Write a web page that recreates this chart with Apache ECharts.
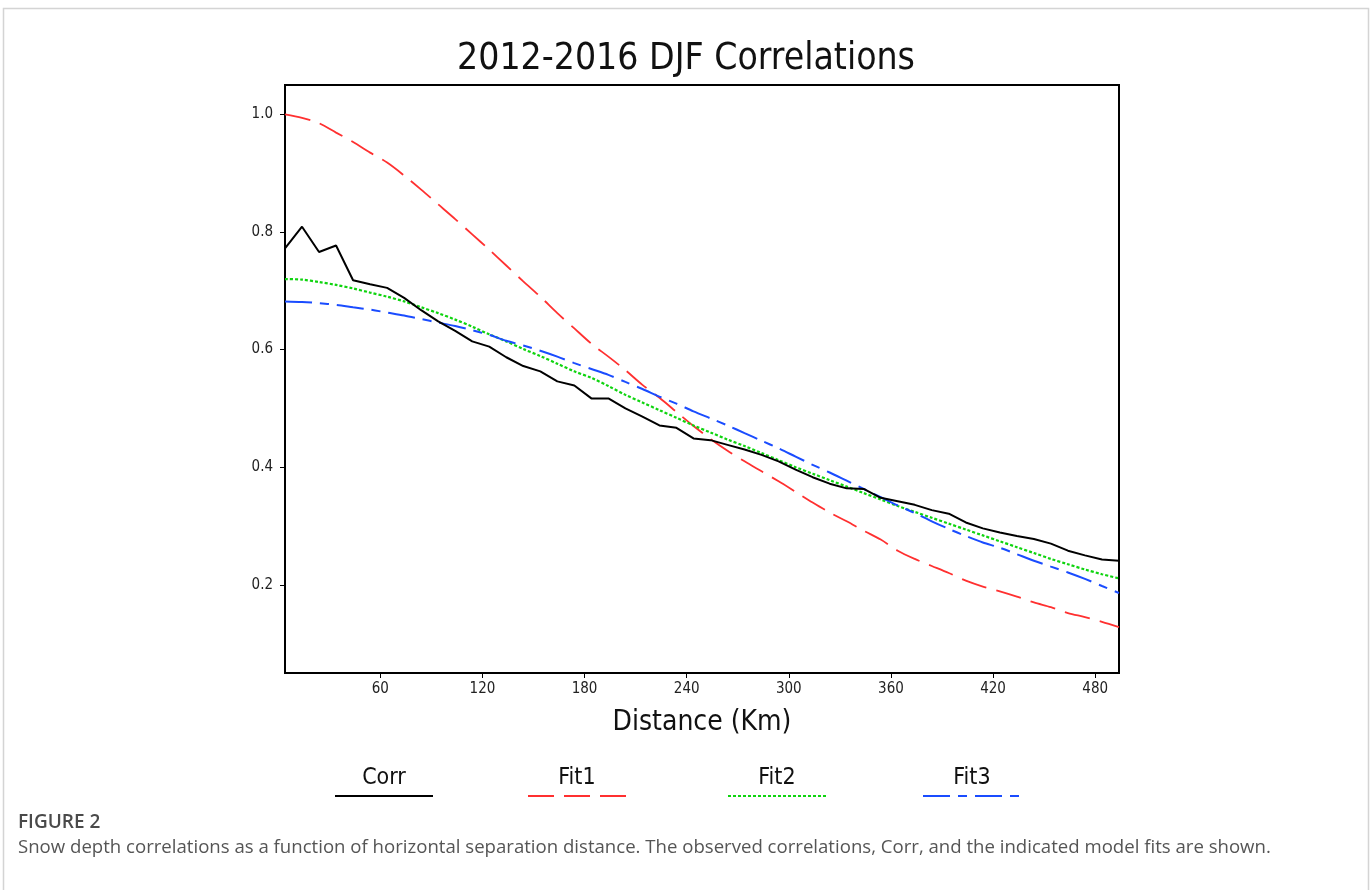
<!DOCTYPE html>
<html>
<head>
<meta charset="utf-8">
<script src="https://cdn.jsdelivr.net/npm/echarts@6/dist/echarts.min.js"></script>
<style>
  html, body { margin: 0; padding: 0; background: #fff; }
  #chart { width: 1372px; height: 890px; }
</style>
</head>
<body>
<div id="chart"></div>
<script>
// ---- data ----
const distances = [4, 14, 24, 34, 44, 54, 64, 74, 84, 94, 104, 114, 124, 134, 144, 154, 164, 174, 184, 194,
  204, 214, 224, 234, 244, 254, 264, 274, 284, 294, 304, 314, 324, 334, 344, 354, 364, 374, 384, 394,
  404, 414, 424, 434, 444, 454, 464, 474, 484, 494];

const corr = [0.772, 0.809, 0.766, 0.777, 0.718, 0.711, 0.705, 0.688, 0.667, 0.648,
  0.632, 0.614, 0.605, 0.587, 0.572, 0.563, 0.546, 0.539, 0.517, 0.517,
  0.500, 0.486, 0.471, 0.467, 0.449, 0.446, 0.438, 0.430, 0.421, 0.410,
  0.396, 0.383, 0.372, 0.364, 0.363, 0.348, 0.342, 0.336, 0.327, 0.321,
  0.306, 0.296, 0.289, 0.283, 0.278, 0.270, 0.258, 0.250, 0.243, 0.241];

const fit1 = [1.000, 0.994, 0.985, 0.969, 0.953, 0.935, 0.918, 0.896, 0.872, 0.847,
  0.822, 0.796, 0.770, 0.743, 0.716, 0.690, 0.662, 0.636, 0.610, 0.588,
  0.565, 0.540, 0.518, 0.494, 0.470, 0.448, 0.428, 0.410, 0.393, 0.376,
  0.358, 0.340, 0.323, 0.308, 0.292, 0.277, 0.258, 0.244, 0.232, 0.220,
  0.207, 0.197, 0.189, 0.180, 0.170, 0.162, 0.152, 0.145, 0.137, 0.128];

const fit2 = [0.720, 0.719, 0.715, 0.710, 0.704, 0.697, 0.690, 0.682, 0.672, 0.662,
  0.651, 0.639, 0.626, 0.614, 0.601, 0.589, 0.576, 0.563, 0.552, 0.538,
  0.523, 0.510, 0.497, 0.484, 0.471, 0.459, 0.447, 0.436, 0.424, 0.412,
  0.400, 0.389, 0.378, 0.367, 0.356, 0.345, 0.334, 0.324, 0.314, 0.304,
  0.294, 0.284, 0.274, 0.264, 0.254, 0.244, 0.235, 0.226, 0.218, 0.211];

const fit3 = [0.682, 0.681, 0.679, 0.676, 0.672, 0.668, 0.663, 0.658, 0.652, 0.646,
  0.640, 0.633, 0.625, 0.615, 0.607, 0.598, 0.588, 0.577, 0.567, 0.557,
  0.545, 0.533, 0.520, 0.508, 0.495, 0.483, 0.471, 0.458, 0.445, 0.432,
  0.418, 0.404, 0.391, 0.377, 0.363, 0.349, 0.335, 0.322, 0.308, 0.295,
  0.283, 0.272, 0.263, 0.252, 0.241, 0.231, 0.221, 0.210, 0.198, 0.186];

const xTicks = [60, 120, 180, 240, 300, 360, 420, 480];
const yTicks = [0.2, 0.4, 0.6, 0.8, 1.0];
const seriesNames = ['Corr', 'Fit1', 'Fit2', 'Fit3'];

// ---- styles ----
const narrow = "'Liberation Sans Narrow', 'DejaVu Sans Condensed', 'Liberation Sans', sans-serif";
const captionFont = "'Open Sans', 'Noto Sans', sans-serif";
const styles = [
  { color: '#000000', width: 2, dash: 'solid' },
  { color: '#ff3030', width: 1.8, dash: [26, 10] },
  { color: '#0fd40f', width: 2.2, dash: [3, 2] },
  { color: '#1a4cff', width: 2, dash: [27, 8, 9, 8] }
];
const valueSets = [corr, fit1, fit2, fit3];

const series = seriesNames.map((name, i) => ({
  name: name,
  type: 'line',
  data: distances.map((d, k) => [d, valueSets[i][k]]),
  showSymbol: false,
  symbol: 'none',
  smooth: i === 0 ? false : 0.3,
  lineStyle: { color: styles[i].color, width: styles[i].width, type: styles[i].dash },
  itemStyle: { color: styles[i].color },
  z: i === 0 ? 5 : 3,
  silent: true
}));

// legend drawn as graphic: text above the line sample
const legendCenters = [384, 577, 777, 972];
const legendGraphics = [];
seriesNames.forEach((name, i) => {
  const cx = legendCenters[i];
  legendGraphics.push({
    type: 'text',
    x: cx, y: 778,
    style: { text: name, fontFamily: narrow, fontSize: 23, fill: '#111', align: 'center', verticalAlign: 'middle' }
  });
  legendGraphics.push({
    type: 'line',
    shape: { x1: cx - 49, y1: 796, x2: cx + 49, y2: 796 },
    style: { stroke: styles[i].color, lineWidth: 2.2, lineDash: styles[i].dash === 'solid' ? null : styles[i].dash }
  });
});

const chart = echarts.init(document.getElementById('chart'), null, { renderer: 'canvas' });
chart.setOption({
  animation: false,
  backgroundColor: '#ffffff',
  title: {
    text: '2012-2016 DJF Correlations',
    left: 'center',
    top: 36,
    textStyle: { fontFamily: narrow, fontSize: 37, fontWeight: 'normal', color: '#111' }
  },
  grid: {
    left: 285, right: 253, top: 85, bottom: 217,
    show: true, borderColor: '#000', borderWidth: 2, backgroundColor: 'transparent'
  },
  xAxis: {
    type: 'value',
    min: 4, max: 494,
    name: 'Distance (Km)',
    nameLocation: 'middle',
    nameGap: 36,
    nameTextStyle: { fontFamily: narrow, fontSize: 28, color: '#111' },
    axisLine: { show: true, lineStyle: { color: '#000', width: 2 } },
    axisTick: { show: true, length: 5, lineStyle: { color: '#000', width: 1 }, customValues: xTicks },
    axisLabel: { customValues: xTicks, fontFamily: narrow, fontSize: 15, color: '#222', margin: 9 },
    splitLine: { show: false }
  },
  yAxis: {
    type: 'value',
    min: 0.05, max: 1.05,
    axisLine: { show: true, lineStyle: { color: '#000', width: 2 } },
    axisTick: { show: true, length: 5, lineStyle: { color: '#000', width: 1 }, customValues: yTicks },
    axisLabel: { customValues: yTicks, fontFamily: narrow, fontSize: 15, color: '#222', margin: 12,
      formatter: v => v.toFixed(1) },
    splitLine: { show: false }
  },
  series: series,
  graphic: [
    { type: 'rect', shape: { x: 3.5, y: 8.5, width: 1365, height: 900 },
      style: { fill: 'none', stroke: '#d4d4d4', lineWidth: 1.5 }, z: -10 },
    ...legendGraphics,
    { type: 'text', x: 18, y: 823,
      style: { text: 'FIGURE 2', fontFamily: captionFont, fontSize: 19, fontWeight: 600, fill: '#4a4a4a', verticalAlign: 'middle' } },
    { type: 'text', x: 18, y: 848,
      style: { text: 'Snow depth correlations as a function of horizontal separation distance. The observed correlations, Corr, and the indicated model fits are shown.',
        fontFamily: captionFont, fontSize: 18.6, fill: '#555', verticalAlign: 'middle' } }
  ]
});
</script>
</body>
</html>
